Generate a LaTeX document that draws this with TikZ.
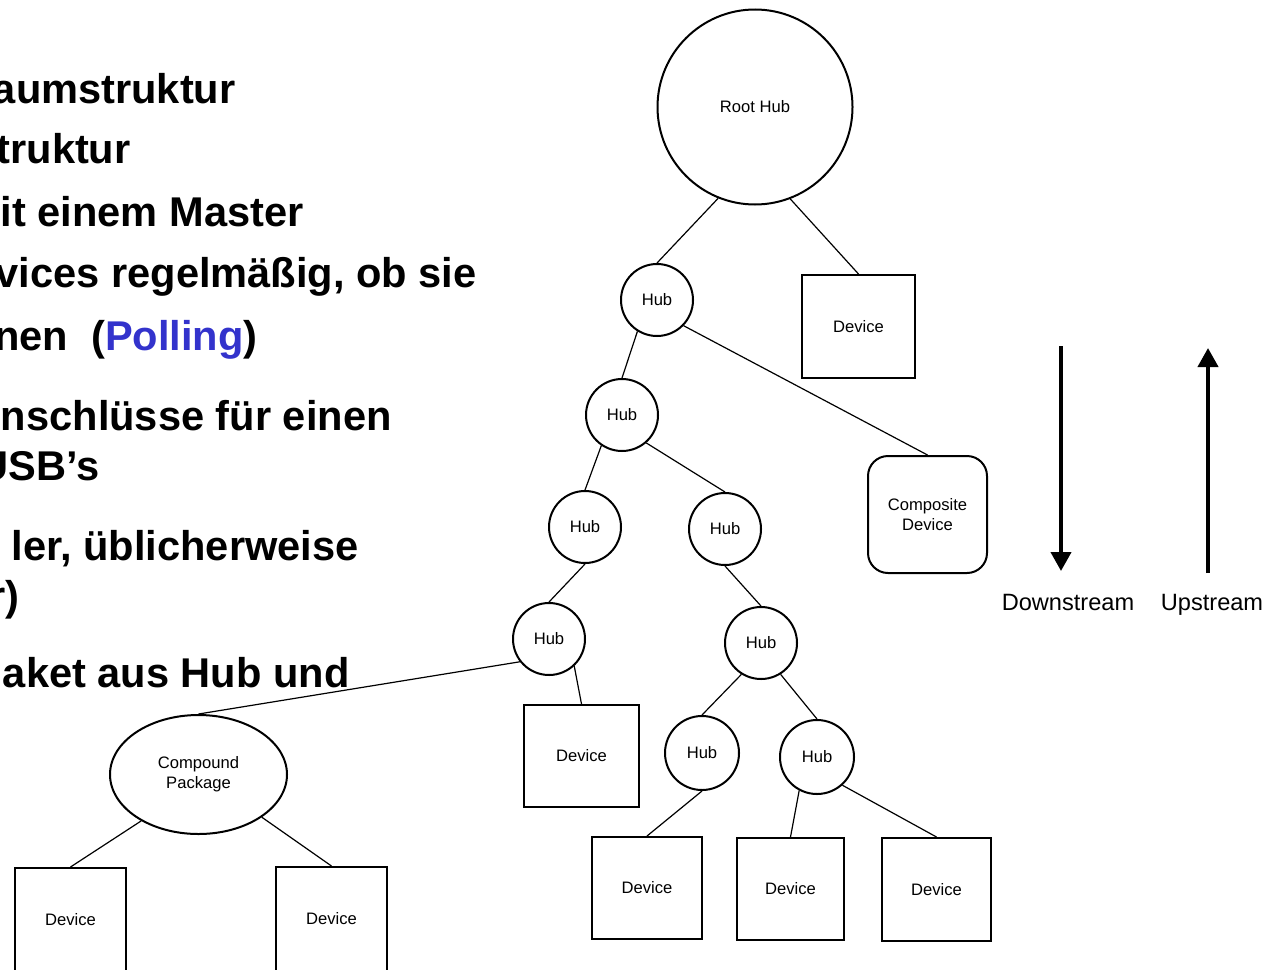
\documentclass[tikz,border=0pt]{standalone}
\usepackage{fontspec}
\setmainfont{Liberation Sans}
\usetikzlibrary{arrows.meta,shapes.geometric}
\definecolor{pollblue}{HTML}{3333CC}
\begin{document}
\begin{tikzpicture}[x=0.5pt,y=-0.5pt,
  bultext/.style={anchor=base east,inner sep=0pt,font=\fontsize{20.8}{25}\selectfont\bfseries},
  dfont/.style={font=\fontsize{8.3}{10}\selectfont},
  hubc/.style={circle,draw,line width=1pt,minimum size=36pt,inner sep=0pt,dfont},
  rootc/.style={circle,draw,line width=1pt,minimum size=97.5pt,inner sep=0pt,dfont},
  devbox/.style={rectangle,draw,line width=1pt,inner sep=0pt,dfont},
  compbox/.style={rectangle,rounded corners=10pt,draw,line width=1pt,inner sep=0pt,align=center,dfont},
  compell/.style={ellipse,draw,line width=1pt,inner sep=0pt,align=center,dfont,minimum width=88.5pt,minimum height=59.5pt},
  link/.style={line width=0.6pt},
  flowarrow/.style={line width=2pt,-{Triangle[width=10pt,length=9.5pt]}},
  flowlabel/.style={anchor=base,inner sep=0pt,font=\fontsize{11.8}{14}\selectfont}]
\useasboundingbox (0,0) rectangle (1278,969);
\clip (0,0) rectangle (1278,969);

% left text (cut off at the left)
\node[bultext] (t1) at (236,103) {aumstruktur};
\node[bultext] (t2) at (131,163) {truktur};
\node[bultext] (t3) at (304,226) {it einem Master};
\node[bultext] (t4) at (477,287) {vices regelmäßig, ob sie};
\node[bultext] (t5) at (258,350) {nen~~(\textcolor{pollblue}{Polling})};
\node[bultext] (t6) at (392,430) {nschlüsse für einen};
\node[bultext] (t7) at (100,480) {USB’s};
\node[bultext] (t8) at (359,560) {ler, üblicherweise};
\node[bultext] (t9) at (20,610) {r)};
\node[bultext] (t10) at (350,687) {aket aus Hub und};

% tree nodes
\node[rootc] (root) at (755,107) {Root Hub};
\node[hubc] (h1) at (657,300) {Hub};
\node[devbox,minimum width=56.5pt,minimum height=51.5pt] (d1) at (858.5,326.5) {Device};
\node[hubc] (h2) at (622,415) {Hub};
\node[compbox,minimum width=59.5pt,minimum height=58.5pt] (comp) at (927.5,514.5) {Composite\\Device};
\node[hubc] (h3a) at (585,527) {Hub};
\node[hubc] (h3b) at (725,529) {Hub};
\node[hubc] (h4a) at (549,639) {Hub};
\node[hubc] (h4b) at (761,643) {Hub};
\node[devbox,minimum width=57.5pt,minimum height=51pt] (dA) at (581.5,756) {Device};
\node[hubc,minimum size=37pt] (h5a) at (702,753) {Hub};
\node[hubc,minimum size=37pt] (h5b) at (817,757) {Hub};
\node[devbox,minimum width=55pt,minimum height=51pt] (dB1) at (647,888) {Device};
\node[devbox,minimum width=53.5pt,minimum height=51pt] (dB2) at (790.5,889) {Device};
\node[devbox,minimum width=54.5pt,minimum height=51.5pt] (dB3) at (936.5,889.5) {Device};
\node[compell] (cp) at (198.5,774.5) {Compound\\Package};
\node[devbox,minimum width=55.5pt,minimum height=52pt] (dL) at (70.5,920) {Device};
\node[devbox,minimum width=55.5pt,minimum height=52pt] (dR) at (331.5,919) {Device};

% connectors
\draw[link] (root.-112) -- (h1.north);
\draw[link] (root.-69) -- (d1.north);
\draw[link] (h1.-122) -- (h2.north);
\draw[link] (h1.-44) -- (comp.north);
\draw[link] (h2.-124) -- (h3a.north);
\draw[link] (h2.-49) -- (h3b.north);
\draw[link] (h3a.south) -- (h4a.north);
\draw[link] (h3b.south) -- (h4b.north);
\draw[link] (h4a.218) -- (cp.north);
\draw[link] (h4a.-47) -- (dA.north);
\draw[link] (h4b.-122) -- (h5a.north);
\draw[link] (h4b.-58) -- (h5b.north);
\draw[link] (h5a.south) -- (dB1.north);
\draw[link] (h5b.-118) -- (dB2.north);
\draw[link] (h5b.-48) -- (dB3.north);
\draw[link] (cp.-141) -- (dL.north);
\draw[link] (cp.-34) -- (dR.north);

% direction arrows
\coordinate (dsA) at (1061,346);
\coordinate (dsB) at (1061,571);
\coordinate (usA) at (1208,573);
\coordinate (usB) at (1208,348);
\draw[flowarrow] (dsA) -- (dsB);
\draw[flowarrow] (usA) -- (usB);
\node[flowlabel] (dsl) at (1068,610) {Downstream};
\node[flowlabel] (usl) at (1212,610) {Upstream};
\end{tikzpicture}
\end{document}
